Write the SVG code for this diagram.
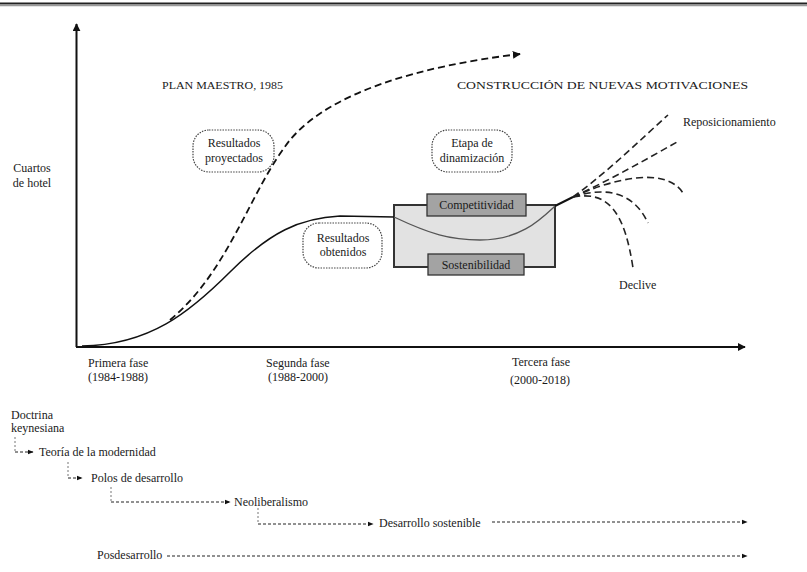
<svg xmlns="http://www.w3.org/2000/svg" width="807" height="572" viewBox="0 0 807 572">
<style>
text{font-family:"Liberation Serif","Times New Roman","DejaVu Serif",serif;fill:#1a1a1a;font-size:12px}
.cap{font-size:11px}
.c{text-anchor:middle}
.axis{stroke:#111;stroke-width:2;fill:none}
.solid{stroke:#111;stroke-width:1.5;fill:none}
.proj{stroke:#111;stroke-width:1.8;fill:none;stroke-dasharray:7 4}
.fan{stroke:#222;stroke-width:1.6;fill:none;stroke-dasharray:7 4}
.bub{fill:#fff;stroke:#444;stroke-width:1.2;stroke-dasharray:1.5 1.2}
.tl{stroke:#222;stroke-width:1;fill:none;stroke-dasharray:3 2}
.tlv{stroke:#777;stroke-width:1;fill:none;stroke-dasharray:2 2}
</style>
<defs>
<marker id="ah" viewBox="0 0 10 10" refX="9" refY="5" markerWidth="8" markerHeight="8" markerUnits="userSpaceOnUse" orient="auto"><path d="M0,0 L10,5 L0,10 z" fill="#111"/></marker>
<marker id="ahs" viewBox="0 0 10 10" refX="9" refY="5" markerWidth="6" markerHeight="6" markerUnits="userSpaceOnUse" orient="auto"><path d="M0,1 L10,5 L0,9 z" fill="#111"/></marker>
</defs>
<rect width="807" height="572" fill="#fff"/>
<line x1="0" y1="3.5" x2="807" y2="3.5" stroke="#222" stroke-width="2"/>
<line x1="0" y1="5.5" x2="807" y2="5.5" stroke="#999" stroke-width="1.5"/>

<g id="axes">
<line class="axis" x1="76.5" y1="347" x2="76.5" y2="24" marker-end="url(#ah)"/>
<line class="axis" x1="76" y1="347" x2="745" y2="347" marker-end="url(#ah)"/>
</g>

<g id="labels" font-family="Liberation Serif, Times New Roman, DejaVu Serif, serif">
<text x="32" y="172" class="c">Cuartos</text>
<text x="32" y="187" class="c">de hotel</text>
<text x="162" y="89" class="cap" textLength="121" lengthAdjust="spacingAndGlyphs">PLAN MAESTRO, 1985</text>
<text x="457" y="89" class="cap" textLength="291" lengthAdjust="spacingAndGlyphs">CONSTRUCCIÓN DE NUEVAS MOTIVACIONES</text>
<text x="88" y="367">Primera fase</text>
<text x="88" y="381">(1984-1988)</text>
<text x="266" y="367">Segunda fase</text>
<text x="268" y="381">(1988-2000)</text>
<text x="512" y="366">Tercera fase</text>
<text x="510" y="384">(2000-2018)</text>
<text x="683" y="126">Reposicionamiento</text>
<text x="619" y="289">Declive</text>
</g>

<g id="box-etapa">
<rect x="394" y="205" width="161" height="62" fill="#e2e2e2" stroke="#333" stroke-width="2"/>
</g>

<g id="connectors">
<path class="proj" d="M170 320 C230 270,250 190,290 140 C330 92,420 66,520 54" marker-end="url(#ah)"/>
<path class="solid" d="M82 346 C150 345,190 312,230 272 C270 232,300 218,340 216 L394 217"/>
<path d="M394 217 C430 234,450 240,480 240 C520 240,540 220,555 206" stroke="#555" stroke-width="1.3" fill="none"/>
<path d="M555 206 L573 197" stroke="#111" stroke-width="2" fill="none"/>
<path class="fan" d="M573 197 C610 170,640 140,668 115"/>
<path class="fan" d="M573 197 C610 180,645 160,677 142"/>
<path class="fan" d="M573 197 C610 180,665 165,683 193"/>
<path class="fan" d="M573 197 C610 185,635 195,648 223"/>
<path class="fan" d="M573 197 C610 190,625 215,633 268"/>
</g>

<g id="competitividad">
<rect x="427" y="194" width="99" height="22" fill="#a3a3a3" stroke="#333" stroke-width="1.3"/>
<text x="476.5" y="209" class="c">Competitividad</text>
</g>
<g id="sostenibilidad">
<rect x="428" y="254" width="96" height="21" fill="#a3a3a3" stroke="#333" stroke-width="1.3"/>
<text x="476" y="269" class="c">Sostenibilidad</text>
</g>

<g id="resultados-proyectados">
<rect class="bub" x="193" y="130" width="81" height="42" rx="16"/>
<text x="234" y="147" class="c">Resultados</text>
<text x="234" y="162" class="c">proyectados</text>
</g>
<g id="etapa-dinamizacion">
<rect class="bub" x="432" y="130" width="80" height="42" rx="16"/>
<text x="472" y="147" class="c">Etapa de</text>
<text x="472" y="162" class="c">dinamización</text>
</g>
<g id="resultados-obtenidos">
<rect class="bub" x="303" y="223" width="79" height="45" rx="16"/>
<text x="343" y="242" class="c">Resultados</text>
<text x="343" y="256" class="c">obtenidos</text>
</g>

<g id="timeline">
<text x="11" y="419">Doctrina</text>
<text x="11" y="432">keynesiana</text>
<path class="tlv" d="M15 437 V452"/>
<path class="tl" d="M15 452 H33" marker-end="url(#ahs)"/>
<text x="39" y="456">Teoría de la modernidad</text>
<path class="tlv" d="M68 462 V478"/>
<path class="tl" d="M68 478 H82" marker-end="url(#ahs)"/>
<text x="91" y="482">Polos de desarrollo</text>
<path class="tlv" d="M111 487 V502"/>
<path class="tl" d="M111 502 H230" marker-end="url(#ahs)"/>
<text x="234" y="506">Neoliberalismo</text>
<path class="tlv" d="M258 508 V524"/>
<path class="tl" d="M258 524 H373" marker-end="url(#ahs)"/>
<text x="379" y="527">Desarrollo sostenible</text>
<path class="tl" d="M492 522 H747" marker-end="url(#ahs)"/>
<text x="97" y="559">Posdesarrollo</text>
<path class="tl" d="M167 556 H747" marker-end="url(#ahs)"/>
</g>
</svg>
